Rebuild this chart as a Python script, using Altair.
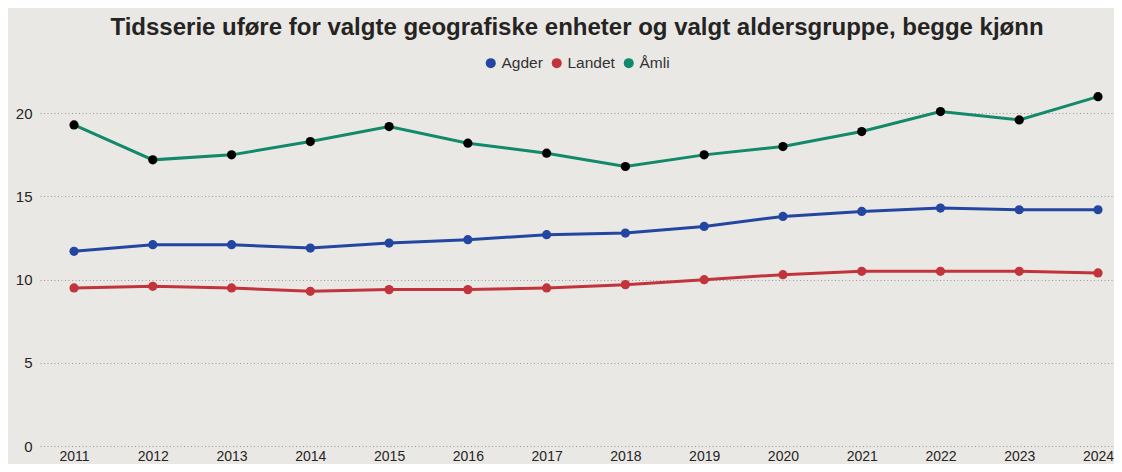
import altair as alt
import pandas as pd

years = list(range(2011, 2025))
series_names = ["Agder", "Landet", "Åmli"]
agder = [11.7, 12.1, 12.1, 11.9, 12.2, 12.4, 12.7, 12.8, 13.2, 13.8, 14.1, 14.3, 14.2, 14.2]
landet = [9.5, 9.6, 9.5, 9.3, 9.4, 9.4, 9.5, 9.7, 10.0, 10.3, 10.5, 10.5, 10.5, 10.4]
amli = [19.3, 17.2, 17.5, 18.3, 19.2, 18.2, 17.6, 16.8, 17.5, 18.0, 18.9, 20.1, 19.6, 21.0]
colors = ["#2346A0", "#C1343B", "#11896A"]
y_ticks = [0, 5, 10, 15, 20]

rows = []
for name, vals in zip(series_names, [agder, landet, amli]):
    for yr, v in zip(years, vals):
        rows.append({"år": yr, "verdi": v, "serie": name})
df = pd.DataFrame(rows)

x_enc = alt.X("år:Q", scale=alt.Scale(domain=[2010.568, 2024.203], nice=False, zero=False),
              axis=alt.Axis(values=years, format="d", title=None, grid=False, domain=False,
                            ticks=False, labelFontSize=14, labelColor="#252423",
                            labelPadding=3, labelFont="Liberation Sans"))
y_enc = alt.Y("verdi:Q", scale=alt.Scale(domain=[0, 22], nice=False),
              axis=alt.Axis(values=y_ticks, title=None, domain=False, ticks=False,
                            grid=True, gridDash=[1, 2.5], gridColor="#9a9a9a", gridWidth=1,
                            labelFontSize=15, labelColor="#252423", labelPadding=8,
                            labelFont="Liberation Sans"))
color_scale = alt.Scale(domain=series_names, range=colors)

base = alt.Chart(df)
lines = base.mark_line(strokeWidth=3).encode(
    x=x_enc, y=y_enc,
    color=alt.Color("serie:N", scale=color_scale, sort=series_names,
                    legend=alt.Legend(title=None, orient="none", legendX=443, legendY=-25,
                                      direction="horizontal", symbolType="circle",
                                      symbolSize=100, symbolStrokeWidth=0, symbolOpacity=1,
                                      labelFontSize=15.5, labelColor="#333333",
                                      labelFont="Liberation Sans", labelOffset=3,
                                      columnPadding=6)),
)
points = base.mark_point(filled=True, size=85, opacity=1).encode(
    x=x_enc, y=y_enc,
    color=alt.condition("datum.serie === 'Åmli'", alt.value("black"),
                        alt.Color("serie:N", scale=color_scale, legend=None)),
)

chart = (lines + points).properties(
    width=1074, height=366,
    autosize=alt.AutoSizeParams(type="none"),
    padding={"left": 32, "top": 72, "right": 0, "bottom": 18},
    background="#EAE8E5",
    title=alt.Title("Tidsserie uføre for valgte geografiske enheter og valgt aldersgruppe, begge kjønn",
                    font="Liberation Sans", fontSize=24, fontWeight="bold", color="#252423",
                    anchor="middle", offset=15),
).configure_view(stroke=None)

chart.save("out.html", embed_options={"renderer": "svg", "actions": False})
